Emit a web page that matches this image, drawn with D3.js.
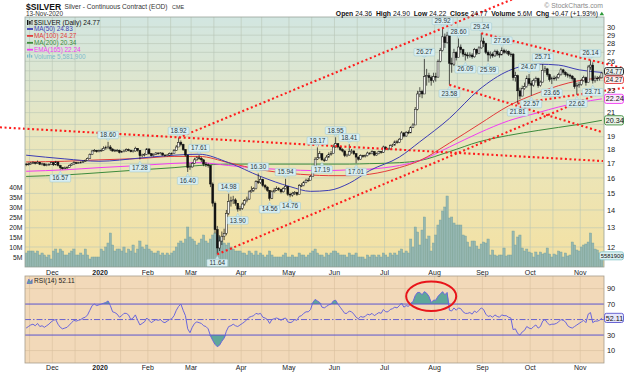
<!DOCTYPE html>
<html lang="en">
<head>
<meta charset="UTF-8">
<title>$SILVER Daily</title>
<script src="https://d3js.org/d3.v7.min.js"></script>
<style>
    body { margin: 0; background: #fff; }
    svg text { font-family: "Liberation Sans", Arial, sans-serif; }
</style>
</head>
<body>
<div id="chart"></div>
<script>

// ---------- data ----------
var firstDay = "2019-11-13", lastDay = "2020-11-13";
var holidays = ["2019-11-28", "2019-12-25", "2020-01-01", "2020-01-20", "2020-02-17",
    "2020-04-10", "2020-05-25", "2020-07-03", "2020-09-07"];

var firstOpen = 16.95;
var closes = [
    16.90,16.95,17.02,17.05,17.00,17.08,16.93,16.97,16.86,16.90,16.93,17.05,
    16.90,17.10,16.85,16.70,16.62,16.68,16.72,16.85,16.95,17.05,17.02,17.04,17.08,17.15,17.20,17.35,17.65,17.90,17.95,17.85,17.92,
    17.95,18.10,18.15,18.20,18.05,17.90,17.95,17.95,17.80,17.85,17.90,18.00,17.95,17.85,17.90,18.10,17.95,17.55,17.60,17.65,18.05,
    17.70,17.55,17.65,17.75,17.70,17.75,17.60,17.55,17.60,17.70,17.70,17.95,18.20,18.55,18.40,18.00,17.60,16.70,16.75,
    17.00,17.25,17.40,17.35,17.25,16.95,16.90,16.85,15.60,14.40,12.90,11.95,12.30,12.55,12.70,13.80,14.50,14.55,14.60,14.40,14.05,14.10,
    14.35,14.55,14.65,15.10,15.20,15.30,15.75,15.70,15.90,15.50,15.40,15.20,14.70,15.10,15.20,15.30,15.25,15.10,15.30,15.45,14.95,
    14.90,15.00,15.05,14.95,15.50,15.50,15.70,15.85,15.85,16.10,16.70,17.30,17.40,17.70,17.25,17.20,17.45,17.65,17.70,18.20,
    18.45,18.20,18.00,17.90,17.55,17.60,17.85,17.90,17.70,17.45,17.30,17.55,17.50,17.55,17.75,17.70,17.85,17.60,17.70,17.85,17.80,18.20,
    18.05,18.05,18.30,18.35,18.60,18.55,18.80,19.30,19.05,19.35,19.30,19.75,19.95,21.30,22.70,22.95,22.70,24.40,24.50,24.30,24.00,24.40,
    24.35,26.00,27.20,28.80,28.10,29.00,25.80,25.70,27.00,26.40,27.60,27.30,26.80,26.70,26.60,26.70,26.50,27.30,26.90,27.50,28.30,
    28.00,27.00,26.70,26.80,26.60,27.10,26.80,26.70,27.20,27.00,27.10,26.80,26.80,24.30,24.50,23.00,22.50,23.20,23.40,24.20,23.70,
    23.55,24.00,24.20,23.50,23.85,25.05,25.20,24.60,24.10,24.25,24.20,24.30,24.60,25.10,24.85,24.60,24.55,24.45,24.20,23.40,23.50,23.60,
    24.00,24.30,23.80,25.40,25.60,24.00,24.25,24.20,24.30,24.77
];
var highs = [
    17.02,17.05,17.10,17.15,17.10,17.20,17.10,17.05,17.00,16.98,17.00,17.12,
    17.10,17.18,17.10,16.90,16.75,16.78,16.80,16.92,17.02,17.15,17.10,17.10,17.15,17.22,17.28,17.42,17.72,17.98,18.05,17.98,18.00,
    18.08,18.25,18.30,18.60,18.35,18.10,18.05,18.05,18.00,17.92,18.00,18.10,18.08,18.00,17.98,18.22,18.12,17.95,17.70,17.75,18.12,
    18.10,17.75,17.72,17.82,17.80,17.82,17.78,17.65,17.68,17.78,17.80,18.05,18.35,18.92,18.70,18.45,18.05,17.60,17.00,
    17.10,17.40,17.50,17.61,17.45,17.30,17.10,17.00,16.85,15.70,14.50,13.10,12.60,12.80,12.95,14.00,14.98,14.80,14.85,14.70,14.40,14.25,
    14.45,14.65,14.80,15.20,15.45,15.40,15.85,16.30,16.10,15.95,15.60,15.45,15.20,15.20,15.35,15.45,15.40,15.30,15.40,15.94,15.45,
    15.05,15.10,15.15,15.10,15.60,15.65,15.80,15.95,16.00,16.20,16.80,17.45,18.17,17.90,17.70,17.40,17.60,17.80,17.90,18.40,
    18.95,18.50,18.25,18.10,17.95,17.70,18.41,18.05,17.95,17.75,17.50,17.65,17.62,17.65,17.85,17.80,17.95,17.90,17.78,17.92,17.90,18.30,
    18.25,18.15,18.40,18.45,18.70,18.75,18.90,19.45,19.35,19.45,19.50,19.85,20.10,21.50,23.00,23.35,23.10,26.27,25.20,24.80,24.50,24.80,
    24.80,26.20,27.50,29.92,29.20,29.40,29.10,26.40,27.40,27.10,28.60,27.90,27.40,27.00,27.00,27.00,26.90,27.50,27.40,27.70,29.24,
    28.70,28.10,27.20,27.10,27.00,27.30,27.30,27.00,27.56,27.40,27.30,27.20,27.00,26.90,24.90,24.60,23.30,23.50,23.80,24.50,24.67,
    24.00,24.20,24.40,24.30,24.00,25.71,25.50,25.30,24.70,24.40,24.50,24.50,24.80,25.30,25.20,24.95,24.80,24.70,24.55,24.30,23.80,23.90,
    24.20,24.50,24.40,25.60,26.14,25.90,24.50,24.45,24.50,24.90
];
var lows = [
    16.80,16.85,16.90,16.95,16.92,16.98,16.88,16.85,16.80,16.80,16.85,16.90,
    16.82,16.85,16.78,16.57,16.58,16.60,16.62,16.70,16.82,16.90,16.95,16.98,17.00,17.05,17.10,17.18,17.32,17.62,17.85,17.78,17.80,
    17.85,17.92,18.00,18.05,17.90,17.85,17.82,17.85,17.72,17.75,17.80,17.85,17.88,17.80,17.78,17.85,17.85,17.28,17.45,17.50,17.60,
    17.62,17.50,17.50,17.60,17.62,17.65,17.55,17.48,17.50,17.55,17.62,17.68,17.92,18.20,18.25,17.90,17.50,16.40,16.55,
    16.70,16.95,17.20,17.25,17.10,16.80,16.75,16.70,15.40,14.20,12.70,11.64,11.80,12.10,12.35,12.60,13.70,14.20,14.35,14.25,13.90,13.95,
    14.00,14.25,14.45,14.60,15.05,15.10,15.25,15.60,15.60,15.40,15.25,15.10,14.56,14.65,15.05,15.15,15.15,15.00,15.05,15.25,14.85,
    14.76,14.80,14.90,14.85,14.95,15.40,15.45,15.65,15.75,15.85,16.10,16.70,17.25,17.35,17.19,17.10,17.20,17.40,17.55,17.70,
    18.15,18.10,17.90,17.80,17.45,17.45,17.55,17.70,17.60,17.01,17.20,17.25,17.40,17.42,17.50,17.60,17.65,17.52,17.55,17.65,17.70,17.75,
    17.95,17.95,18.00,18.20,18.30,18.45,18.50,18.80,18.95,19.00,19.20,19.30,19.70,19.95,21.20,22.40,22.30,22.90,23.50,23.80,23.50,23.80,
    23.90,24.30,25.90,27.10,27.50,28.00,23.58,24.80,25.50,26.10,26.40,26.90,26.50,26.09,26.30,26.40,26.30,26.40,26.70,26.80,27.40,
    27.60,26.80,25.99,26.30,26.40,26.50,26.60,26.40,26.70,26.80,26.80,26.60,26.50,24.00,23.90,21.81,22.20,22.50,23.10,23.30,23.50,
    22.57,23.40,23.80,23.30,23.40,23.80,24.80,24.40,23.90,23.65,24.00,24.00,24.20,24.50,24.60,24.40,24.30,24.20,24.00,23.20,22.62,23.30,
    23.50,23.90,23.50,23.80,25.10,23.71,23.80,23.95,24.00,24.22
];
// volume in millions of contracts
var volumes = [
    7,8,8,8,7,8,6,7,6,5,6,4,
    8,9,7,9,8,6,6,7,8,9,6,6,7,6,9,6,4,5,5,5,5,
    9,8,10,12,17,11,8,9,9,8,10,7,9,8,11,7,9,13,10,9,11,
    9,8,7,7,8,6,7,6,7,6,7,8,10,12,13,12,14,20,15,
    14,13,11,12,14,16,13,12,14,16,17,16,15,13,12,11,12,10,9,8,8,8,
    7,7,6,8,7,6,8,6,7,6,5,6,8,6,5,5,5,5,6,7,5,
    5,6,5,5,7,6,6,5,6,7,8,9,7,6,6,5,7,6,7,8,
    8,7,6,6,6,5,7,6,6,7,5,5,5,4,6,5,6,6,5,6,5,7,
    6,5,7,6,7,6,8,9,7,8,7,14,10,20,17.5,11,18.5,25,14,15.5,8,12,
    16,21,23.5,28,30,35.5,24.5,25,22,21,21,21,16,15.5,12.5,10,13,13,10.5,9,11.5,
    12.5,12,14,6,8.5,6,5.5,6,6,9.5,5.5,6,6,18,11,15,16,9.5,8,9,7.5,
    7,5,7.5,6,7.5,6.5,7,9.5,6.5,5,6.5,6,8,7.5,5,7,5.5,6,12.5,11,8.5,8,
    10,11,11.5,12.5,17,12,9,8.5,7,5.58
];
var rsi = [
    39,41,43,44,42,45,41,42,40,42,44,47,
    49,50,44,40,38,39,40,43,46,49,48,49,50,52,53,56,62,68,70,68,69,
    70,71,72,74,68,60,59,57,53,55,58,58,56,50,52,56,49,43,45,47,52,
    49,46,48,50,49,50,47,46,48,50,51,55,62,67,70,62,55,38,33,
    40,45,47,46,45,42,41,38,29,23,18,15,17,22,26,35,41,42,44,42,41,43,
    45,47,50,53,54,55,58,57,58,53,52,50,45,50,51,52,51,49,51,52,47,
    46,47,50,49,54,55,58,60,60,63,72,76,74,72,66,65,67,69,70,74,
    75,70,66,62,58,58,61,60,57,53,51,54,53,54,57,56,58,55,57,59,58,63,
    60,60,63,64,66,65,68,71,66,68,67,71,73,81,85,85,82,86,84,80,72,75,
    75,80,83,86,82,85,62,61,65,62,65,64,60,58,58,59,57,61,59,62,65,
    63,57,54,55,53,56,54,53,56,55,55,53,52,37,38,32,30,34,36,41,39,
    38,41,43,39,41,48,50,46,43,44,44,45,47,50,49,47,42,40,39,41,43,45,
    47,49,46,57,59,46,48,48,49,52.11
];

// moving averages, sampled along the chart
var maDates = ["2019-11-13","2019-12-09","2019-12-31","2020-01-28","2020-02-19","2020-03-05","2020-03-24",
    "2020-04-14","2020-05-01","2020-05-14","2020-05-27","2020-06-09","2020-06-22","2020-07-10","2020-07-23",
    "2020-08-11","2020-08-28","2020-09-17","2020-10-06","2020-10-19","2020-10-30","2020-11-13"];
var ma50   = [17.59,17.32,17.15,17.38,17.59,17.66,17.05,16.10,15.43,15.13,15.19,15.65,16.50,17.45,18.60,20.50,23.10,25.00,25.70,25.60,25.10,24.83];
var ma100  = [17.10,17.15,17.25,17.35,17.50,17.50,17.05,16.55,16.30,16.20,16.15,16.15,16.25,16.70,17.20,18.50,20.00,21.60,22.80,23.50,24.00,24.27];
var ema165 = [16.45,16.55,16.70,16.85,17.00,17.05,16.85,16.65,16.55,16.50,16.50,16.55,16.60,16.85,17.20,18.20,19.30,20.30,21.00,21.50,21.90,22.24];
var ma200  = [16.10,16.20,16.35,16.55,16.70,16.85,16.95,16.95,16.95,16.95,16.95,16.95,16.98,17.05,17.20,17.85,18.60,19.10,19.50,19.75,20.00,20.34];

// annotated highs / lows
var highTags = [["2020-01-07",18.60],["2020-02-21",18.92],["2020-03-05",17.61],["2020-03-24",14.98],["2020-04-13",16.30],
    ["2020-04-29",15.94],["2020-05-19",18.17],["2020-06-01",18.95],["2020-06-09",18.41],["2020-07-27",26.27],
    ["2020-08-06",29.92],["2020-08-17",28.60],["2020-08-31",29.24],["2020-09-14",27.56],["2020-09-30",24.67],
    ["2020-10-08",25.71],["2020-11-06",26.14]];
var lowTags = [["2019-12-05",16.57],["2020-01-28",17.28],["2020-02-27",16.40],["2020-03-17",11.64],["2020-03-30",13.90],
    ["2020-04-20",14.56],["2020-05-01",14.76],["2020-05-21",17.19],["2020-06-12",17.01],["2020-08-11",23.58],
    ["2020-08-20",26.09],["2020-09-03",25.99],["2020-09-23",21.81],["2020-10-01",22.57],["2020-10-14",23.65],
    ["2020-10-29",22.62],["2020-11-09",23.71]];

// hand drawn trend lines: two anchors (date, price), extended by bars before / after
var trendLines = [
    {a: ["2020-02-21", 18.95], b: ["2020-11-13", 17.17], pre: 78.5, post: 0.5},
    {a: ["2020-02-21", 18.92], b: ["2020-07-27", 28.93], pre: 0, post: 40},
    {a: ["2020-03-17", 11.64], b: ["2020-11-13", 22.86], pre: 0, post: 0.5},
    {a: ["2020-08-31", 29.24], b: ["2020-11-06", 26.14], pre: 0, post: 14.7},
    {a: ["2020-08-11", 23.58], b: ["2020-11-13", 19.37], pre: 0, post: 0.5},
    {a: ["2020-09-23", 21.81], b: ["2020-10-29", 22.62], pre: 0, post: 20.6}
];
var rsiRing = {date: "2020-07-30", value: 80, halfBars: 11, halfValue: 19};

var priceTicks = [12,13,14,15,16,17,18,19,20,21,22,23,24,25,26,27,28,29,30];
var volTicks = [5,10,15,20,25,30,35,40];
var rsiTicks = [10,30,70,90];
var monthKeys = ["2019-12","2020-01","2020-02","2020-03","2020-04","2020-05","2020-06","2020-07","2020-08","2020-09","2020-10","2020-11"];
var monthNames = ["Dec","2020","Feb","Mar","Apr","May","Jun","Jul","Aug","Sep","Oct","Nov"];

var legendRows = [["MA(50) 24.83", "#3c3cb4"], ["MA(100) 24.27", "#e23b3b"], ["MA(200) 20.34", "#3d8b3d"],
    ["EMA(165) 22.24", "#f23cf2"], ["Volume 5,581,900", "#7dbccb"]];
var lastBoxes = [["24.77", 24.77, "#111", "#e9f3f1"], ["24.27", 24.27, "#e23b3b", "#fbeeee"],
    ["22.24", 22.24, "#f03cf0", "#fbe9fb"], ["20.34", 20.34, "#3d8b3d", "#e8f3e6"]];
var lastVolume = ["5581900", 5.58];
var lastRsi = 52.11;

// ---------- layout ----------
var W = 624, H = 373;
var L = 25, R = 604, mainTop = 17, mainBot = 267, rsiTop = 276, rsiBot = 363;

var fmt = d3.utcFormat("%Y-%m-%d");
var days = d3.utcDays(new Date(firstDay + "T00:00Z"), new Date(lastDay + "T12:00Z"))
    .filter(function (d) { return d.getUTCDay() % 6 !== 0 && holidays.indexOf(fmt(d)) < 0; })
    .map(fmt);
var N = days.length;
var idx = {};
days.forEach(function (d, i) { idx[d] = i; });

var x = d3.scaleBand().domain(d3.range(N)).range([L, 603]);
var step = x.step();
function xi(i) { return L + step * (i + 0.5); }   // also works for fractional bars
function xc(i) { return x(i) + step / 2; }

var y = d3.scaleLog().domain([11.04, 31.28]).range([mainBot, mainTop]);
var yv = d3.scaleLinear().domain([0, 50]).range([mainBot, mainBot - 100]);
var yr = d3.scaleLinear().domain([0, 100]).range([358.3, 280.8]);

var svg = d3.select("#chart").append("svg")
    .attr("width", W).attr("height", H);

var defs = svg.append("defs");
var grad = defs.append("linearGradient").attr("id", "mainBg")
    .attr("x1", 0).attr("y1", 0).attr("x2", 0).attr("y2", 1);
grad.append("stop").attr("offset", "0%").attr("stop-color", "#d2e6e1");
grad.append("stop").attr("offset", "50%").attr("stop-color", "#e9e6bd");
grad.append("stop").attr("offset", "100%").attr("stop-color", "#f4e1a2");
defs.append("clipPath").attr("id", "mainClip").append("rect")
    .attr("x", L).attr("y", mainTop).attr("width", R - L).attr("height", mainBot - mainTop);
defs.append("clipPath").attr("id", "rsiClip").append("rect")
    .attr("x", L).attr("y", rsiTop).attr("width", R - L).attr("height", rsiBot - rsiTop);

// panels
svg.append("rect").attr("x", L).attr("y", mainTop).attr("width", R - L).attr("height", mainBot - mainTop)
    .attr("fill", "url(#mainBg)");
svg.append("rect").attr("x", L).attr("y", rsiTop).attr("width", R - L).attr("height", rsiBot - rsiTop)
    .attr("fill", "#f2d9b9");

// month starts and mid-month positions
var monthIdx = monthKeys.map(function (k) {
    return days.findIndex(function (d) { return d.slice(0, 7) === k; });
});
var midIdx = [];
d3.range(N).forEach(function (i) {
    var dd = +days[i].slice(8);
    if (dd >= 15 && (i === 0 || +days[i - 1].slice(8) < 15 || days[i - 1].slice(0, 7) !== days[i].slice(0, 7))) midIdx.push(i);
});

// grid
var grid = svg.append("g").attr("stroke-width", 0.6);
grid.selectAll(".pg").data(priceTicks).join("line")
    .attr("x1", L).attr("x2", R).attr("y1", function (d) { return y(d); }).attr("y2", function (d) { return y(d); })
    .attr("stroke", "#b8c6b6");
grid.selectAll(".vg").data(monthIdx.concat(midIdx)).join("line")
    .attr("x1", function (i) { return x(i); }).attr("x2", function (i) { return x(i); })
    .attr("y1", mainTop).attr("y2", mainBot).attr("stroke", "#b8c6b6");
grid.selectAll(".rv").data(monthIdx.concat(midIdx)).join("line")
    .attr("x1", function (i) { return x(i); }).attr("x2", function (i) { return x(i); })
    .attr("y1", rsiTop).attr("y2", rsiBot).attr("stroke", "#d9bf9d");
grid.selectAll(".rg").data([10, 90]).join("line")
    .attr("x1", L).attr("x2", R).attr("y1", function (d) { return yr(d); }).attr("y2", function (d) { return yr(d); })
    .attr("stroke", "#d9bf9d");

// ---------- price panel ----------
var plot = svg.append("g").attr("clip-path", "url(#mainClip)");

// volume
plot.append("g").selectAll("rect").data(d3.range(N)).join("rect")
    .attr("x", function (i) { return x(i); })
    .attr("width", step)
    .attr("y", function (i) { return yv(volumes[i]); })
    .attr("height", function (i) { return mainBot - yv(volumes[i]); })
    .attr("fill", "#95b7b1").attr("stroke", "#77a09a").attr("stroke-width", 0.4);

// moving averages
var maLine = d3.line()
    .x(function (d) { return xc(idx[d[0]]); })
    .y(function (d) { return y(d[1]); })
    .curve(d3.curveMonotoneX);
[[ma200, "#3d8b3d"], [ema165, "#f23cf2"], [ma100, "#e23b3b"], [ma50, "#3c3cb4"]].forEach(function (m) {
    plot.append("path")
        .datum(maDates.map(function (d, k) { return [d, m[0][k]]; }))
        .attr("fill", "none").attr("stroke", m[1]).attr("stroke-width", 1)
        .attr("d", maLine);
});

// candles (open taken as the previous close)
function openOf(i) { return i === 0 ? firstOpen : closes[i - 1]; }
var candles = plot.append("g").selectAll("g").data(d3.range(N)).join("g");
candles.append("line")
    .attr("x1", xc).attr("x2", xc)
    .attr("y1", function (i) { return y(highs[i]); })
    .attr("y2", function (i) { return y(lows[i]); })
    .attr("stroke", "#111").attr("stroke-width", 0.7);
candles.append("rect")
    .attr("x", function (i) { return xc(i) - 0.95; })
    .attr("width", 1.9)
    .attr("y", function (i) { return y(Math.max(openOf(i), closes[i])); })
    .attr("height", function (i) { return Math.max(0.7, Math.abs(y(openOf(i)) - y(closes[i]))); })
    .attr("fill", function (i) { return closes[i] >= openOf(i) ? "#f4f4f0" : "#111"; })
    .attr("stroke", "#111").attr("stroke-width", 0.5);

// trend lines (not clipped, they run over the frame)
trendLines.forEach(function (t) {
    var ia = idx[t.a[0]], ib = idx[t.b[0]];
    var x1 = xi(ia), y1 = y(t.a[1]), x2 = xi(ib), y2 = y(t.b[1]);
    var k = (y2 - y1) / (x2 - x1);
    var s = xi(ia - t.pre), e = xi(ib + t.post);
    svg.append("line")
        .attr("x1", s).attr("y1", y1 + k * (s - x1))
        .attr("x2", e).attr("y2", y1 + k * (e - x1))
        .attr("stroke", "#ff1c1c").attr("stroke-width", 2.1)
        .attr("stroke-dasharray", "2,2.6");
});

// price tags
function tag(i, v, up) {
    var cx = xc(i), cy = y(v), txt = v.toFixed(2);
    var w = txt.length * 3.55 + 3, h = 7.5;
    var top = up ? cy - 10.5 : cy + 5;
    var g = svg.append("g");
    g.append("path")
        .attr("d", up ? "M" + (cx - 2) + "," + (top + h) + "L" + cx + "," + (cy - 1) + "L" + (cx + 2) + "," + (top + h) + "Z"
                      : "M" + (cx - 2) + "," + top + "L" + cx + "," + (cy + 1.5) + "L" + (cx + 2) + "," + top + "Z")
        .attr("fill", "#cfe9ef").attr("stroke", "#9cc6cf").attr("stroke-width", 0.4);
    g.append("rect").attr("x", cx - w / 2).attr("y", top).attr("width", w).attr("height", h)
        .attr("rx", 1).attr("fill", "#d8eef2").attr("stroke", "#9cc6cf").attr("stroke-width", 0.5);
    g.append("text").attr("x", cx).attr("y", top + h - 1.6).attr("text-anchor", "middle")
        .attr("font-size", 6.4).attr("fill", "#2d3b40").text(txt);
}
highTags.forEach(function (t) { tag(idx[t[0]], t[1], true); });
lowTags.forEach(function (t) { tag(idx[t[0]], t[1], false); });

// frames
svg.append("rect").attr("x", L).attr("y", mainTop).attr("width", R - L).attr("height", mainBot - mainTop)
    .attr("fill", "none").attr("stroke", "#9aa39a").attr("stroke-width", 0.8);

// right price axis: ticks hidden where a last-value box sits on them
var boxYs = lastBoxes.map(function (b) { return y(b[1]); });
var shownTicks = priceTicks.filter(function (d) {
    return boxYs.every(function (by) { return Math.abs(y(d) - by) > 6.5; });
});
svg.append("g").selectAll("text").data(shownTicks).join("text")
    .attr("x", 607).attr("y", function (d) { return y(d) + 2.6; })
    .attr("font-size", 7.4).attr("fill", "#222").text(function (d) { return d; });

// left volume axis
svg.append("g").selectAll("text").data(volTicks).join("text")
    .attr("x", 22.5).attr("y", function (d) { return yv(d) + 2.5; })
    .attr("text-anchor", "end").attr("font-size", 6.8).attr("fill", "#222")
    .text(function (d) { return d + "M"; });

// value boxes on the right edge (dy only separates boxes that would sit on each other)
function valueBox(yy, txt, stroke, fill, opt) {
    opt = opt || {};
    var cy = yy + (opt.dy || 0), bx = opt.x || 604.5, bw = 623.5 - bx, h = opt.h || 9.2;
    svg.append("rect").attr("x", bx).attr("y", cy - h / 2).attr("width", bw).attr("height", h)
        .attr("rx", 2).attr("fill", fill).attr("stroke", stroke).attr("stroke-width", 0.9);
    svg.append("text").attr("x", bx + 1.3).attr("y", cy + (opt.fs || 7.2) * 0.36)
        .attr("font-size", opt.fs || 7.2).attr("fill", "#111").text(txt);
}
valueBox(y(24.77), "24.77", "#111", "#e9f3f1", {dy: -1.6, h: 7.6, fs: 6.6});
valueBox(y(24.27), "24.27", "#e23b3b", "#fbeeee", {dy: 1.8, h: 7.6, fs: 6.6});
lastBoxes.slice(2).forEach(function (b) { valueBox(y(b[1]), b[0], b[2], b[3]); });
valueBox(yv(lastVolume[1]), lastVolume[0], "#8fc9cf", "#d9f0f0", {x: 599.5, fs: 5.8, h: 8});

// month labels
function monthAxis(yy) {
    svg.append("g").selectAll("text").data(monthIdx).join("text")
        .attr("x", function (i) { return x(i); }).attr("y", yy)
        .attr("text-anchor", "middle").attr("font-size", 7)
        .attr("font-weight", function (i, k) { return monthNames[k] === "2020" ? "bold" : "normal"; })
        .attr("fill", "#222").text(function (i, k) { return monthNames[k]; });
}
monthAxis(274.6);
monthAxis(369.8);

// ---------- RSI panel ----------
var rsiG = svg.append("g").attr("clip-path", "url(#rsiClip)");
rsiG.append("path").datum(d3.range(N))
    .attr("fill", "#5fa79a")
    .attr("d", d3.area().x(xc).y0(yr(70)).y1(function (i) { return yr(Math.max(rsi[i], 70)); }));
rsiG.append("path").datum(d3.range(N))
    .attr("fill", "#5fa79a")
    .attr("d", d3.area().x(xc).y0(yr(30)).y1(function (i) { return yr(Math.min(rsi[i], 30)); }));
[70, 30].forEach(function (v) {
    rsiG.append("line").attr("x1", L).attr("x2", R).attr("y1", yr(v)).attr("y2", yr(v))
        .attr("stroke", "#5a55cf").attr("stroke-width", 1);
});
rsiG.append("line").attr("x1", L).attr("x2", R).attr("y1", yr(50)).attr("y2", yr(50))
    .attr("stroke", "#5a55cf").attr("stroke-width", 0.9).attr("stroke-dasharray", "6,2,1.5,2");
rsiG.append("path").datum(d3.range(N))
    .attr("fill", "none").attr("stroke", "#6a66dc").attr("stroke-width", 1)
    .attr("d", d3.line().x(xc).y(function (i) { return yr(rsi[i]); }));

svg.append("rect").attr("x", L).attr("y", rsiTop).attr("width", R - L).attr("height", rsiBot - rsiTop)
    .attr("fill", "none").attr("stroke", "#a79d8c").attr("stroke-width", 0.8);

svg.append("g").selectAll("text").data(rsiTicks).join("text")
    .attr("x", 607).attr("y", function (d) { return yr(d) + 2.6; })
    .attr("font-size", 7.4).attr("fill", "#222").text(function (d) { return d; });
valueBox(yr(lastRsi), lastRsi.toFixed(2), "#5a55cf", "#e6e6fb");

// overbought ring
var ri = idx[rsiRing.date];
svg.append("ellipse")
    .attr("cx", xi(ri)).attr("cy", yr(rsiRing.value))
    .attr("rx", xi(ri + rsiRing.halfBars) - xi(ri))
    .attr("ry", yr(rsiRing.value - rsiRing.halfValue) - yr(rsiRing.value))
    .attr("fill", "none").attr("stroke", "#e8141a").attr("stroke-width", 2);

// RSI legend
svg.append("path").attr("d", "M27,283.5L28.8,279L30.5,282L32.2,279.5L32.2,283.5Z").attr("fill", "#5fa79a")
    .attr("stroke", "#5a55cf").attr("stroke-width", 0.6);
svg.append("text").attr("x", 34).attr("y", 283.2).attr("font-size", 6.6)
    .attr("font-family", "DejaVu Sans Mono, monospace").attr("fill", "#222").text("RSI(14) " + lastRsi.toFixed(2));

// ---------- titles and legend ----------
svg.append("text").attr("x", 26).attr("y", 9.6).attr("font-size", 8.6).attr("font-weight", "bold")
    .attr("fill", "#111").text("$SILVER");
svg.append("text").attr("x", 64.5).attr("y", 9.4).attr("font-size", 6.6).attr("fill", "#333")
    .text("Silver - Continuous Contract (EOD)");
svg.append("text").attr("x", 172).attr("y", 9.4).attr("font-size", 5.4).attr("fill", "#333").text("CME");
svg.append("text").attr("x", 26).attr("y", 16.3).attr("font-size", 6.4).attr("fill", "#333").text("13-Nov-2020");
svg.append("text").attr("x", 603).attr("y", 8.3).attr("text-anchor", "end").attr("font-size", 6.8)
    .attr("fill", "#8a8a8a").text("© StockCharts.com");

var quote = svg.append("text").attr("x", 598).attr("y", 15.6).attr("text-anchor", "end")
    .attr("font-size", 6.8).attr("fill", "#111").style("white-space", "pre");
[["Open ", 1], ["24.36  ", 0], ["High ", 1], ["24.90  ", 0], ["Low ", 1], ["24.22  ", 0], ["Close ", 1], ["24.77  ", 0],
 ["Volume ", 1], ["5.6M  ", 0], ["Chg ", 1], ["+0.47 (+1.93%)", 0]].forEach(function (p) {
    quote.append("tspan").attr("font-weight", p[1] ? "bold" : "normal").text(p[0]);
});
svg.append("path").attr("d", "M599.5,15.2L601.8,11.8L604.1,15.2Z").attr("fill", "#2e9a3a");

// legend block in the price panel
svg.append("rect").attr("x", 27).attr("y", 20).attr("width", 1.4).attr("height", 5).attr("fill", "#111");
svg.append("rect").attr("x", 29.2).attr("y", 21).attr("width", 1.4).attr("height", 3.5).attr("fill", "#111");
svg.append("rect").attr("x", 31.4).attr("y", 20.5).attr("width", 1.4).attr("height", 4).attr("fill", "#fff").attr("stroke", "#111").attr("stroke-width", 0.4);
svg.append("text").attr("x", 34).attr("y", 25).attr("font-size", 6.6)
    .attr("font-family", "DejaVu Sans Mono, monospace").attr("fill", "#111").text("$SILVER (Daily) 24.77");
legendRows.forEach(function (r, k) {
    var yy = 29 + k * 6.9;
    if (k < 4) {
        svg.append("line").attr("x1", 27).attr("x2", 33).attr("y1", yy).attr("y2", yy)
            .attr("stroke", r[1]).attr("stroke-width", 1.8);
    } else {
        svg.append("rect").attr("x", 27).attr("y", yy - 2).attr("width", 1.3).attr("height", 3).attr("fill", r[1]);
        svg.append("rect").attr("x", 29).attr("y", yy - 3).attr("width", 1.3).attr("height", 4).attr("fill", r[1]);
        svg.append("rect").attr("x", 31).attr("y", yy - 1.5).attr("width", 1.3).attr("height", 2.5).attr("fill", r[1]);
    }
    svg.append("text").attr("x", 34).attr("y", yy + 2.3).attr("font-size", 6.4)
        .attr("fill", r[1]).text(r[0]);
});

</script>
</body>
</html>
